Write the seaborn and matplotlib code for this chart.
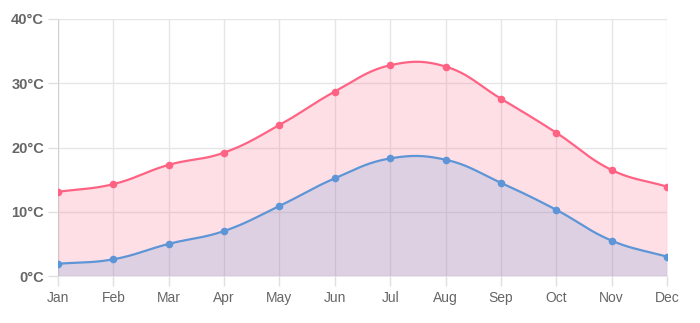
import numpy as np
import pandas as pd
import matplotlib
matplotlib.use("Agg")
import matplotlib.pyplot as plt
import seaborn as sns

months = ["Jan", "Feb", "Mar", "Apr", "May", "Jun", "Jul", "Aug", "Sep", "Oct", "Nov", "Dec"]
high_temp = [13.1, 14.3, 17.3, 19.2, 23.5, 28.7, 32.8, 32.6, 27.6, 22.3, 16.5, 13.9]
low_temp = [1.9, 2.6, 5.0, 7.0, 10.9, 15.2, 18.3, 18.1, 14.5, 10.3, 5.5, 3.0]
y_ticks = [0, 10, 20, 30, 40]
y_tick_labels = ["0°C", "10°C", "20°C", "30°C", "40°C"]

sns.set_theme(style="white")
plt.rcParams['font.family'] = ['Liberation Sans', 'DejaVu Sans']

fig = plt.figure(figsize=(7.0, 3.23), dpi=100)
ax = fig.add_axes([58 / 700, 1 - 276 / 323, (667 - 58) / 700, (276 - 19) / 323])

PX_X = (667 - 58) / 11.0
PX_Y = (276 - 19) / 40.0


def smooth(vals, tension=0.4, n=30):
    xs = np.arange(len(vals)) * PX_X
    ys = np.array(vals) * PX_Y
    pts = np.column_stack([xs, ys])
    m = len(pts)
    prev_c = np.zeros_like(pts)
    next_c = np.zeros_like(pts)
    for i in range(m):
        p0 = pts[max(i - 1, 0)]
        p1 = pts[i]
        p2 = pts[min(i + 1, m - 1)]
        d01 = np.hypot(*(p1 - p0))
        d12 = np.hypot(*(p2 - p1))
        tot = d01 + d12
        s01 = d01 / tot if tot else 0
        s12 = d12 / tot if tot else 0
        prev_c[i] = p1 - tension * s01 * (p2 - p0)
        next_c[i] = p1 + tension * s12 * (p2 - p0)
    out = []
    t = np.linspace(0, 1, n)[:, None]
    for i in range(m - 1):
        P0, P1, P2, P3 = pts[i], next_c[i], prev_c[i + 1], pts[i + 1]
        seg = ((1 - t) ** 3) * P0 + 3 * ((1 - t) ** 2) * t * P1 + 3 * (1 - t) * t ** 2 * P2 + t ** 3 * P3
        out.append(seg if i == 0 else seg[1:])
    out = np.vstack(out)
    return out[:, 0] / PX_X, out[:, 1] / PX_Y


df = pd.DataFrame({"x": np.arange(len(months)), "month": months, "high": high_temp, "low": low_temp})

red = (255 / 255, 99 / 255, 132 / 255)
blue = (54 / 255, 162 / 255, 235 / 255)

# grid
for yv in y_ticks:
    ax.axhline(yv, color="#e6e6e6" if yv else "#d0d0d0", lw=1, zorder=0)
for i in range(len(months)):
    ax.axvline(i, color="#e6e6e6" if i else "#d0d0d0", lw=1, zorder=0)

# blue dataset (drawn first)
bx, by = smooth(low_temp)
ax.fill_between(bx, by, 0, color=blue, alpha=0.2, lw=0, zorder=1)
ax.plot(bx, by, color=blue, lw=1.6, zorder=2)
sns.scatterplot(data=df, x="x", y="low", ax=ax, color=blue, s=20, edgecolor=blue, linewidth=1, zorder=3, legend=False)

# red dataset on top
rx, ry = smooth(high_temp)
ax.fill_between(rx, ry, 0, color=red, alpha=0.2, lw=0, zorder=4)
ax.plot(rx, ry, color=red, lw=1.6, zorder=5)
sns.scatterplot(data=df, x="x", y="high", ax=ax, color=red, s=20, edgecolor=red, linewidth=1, zorder=6, legend=False)

ax.set_xlim(0, len(months) - 1)
ax.set_ylim(0, 40)
ax.set_xticks(np.arange(len(months)))
ax.set_xticklabels(months, fontsize=10, color="#666666")
ax.set_yticks(y_ticks)
ax.set_yticklabels(y_tick_labels, fontsize=10.5, color="#666666", fontweight="bold")
ax.tick_params(axis="both", which="both", length=7, width=1, color="#e0e0e0", pad=3, left=True, bottom=True)
ax.tick_params(axis="x", pad=4)
ax.set_xlabel("")
ax.set_ylabel("")
for s in ax.spines.values():
    s.set_visible(False)

fig.savefig("out.png", dpi=100)
